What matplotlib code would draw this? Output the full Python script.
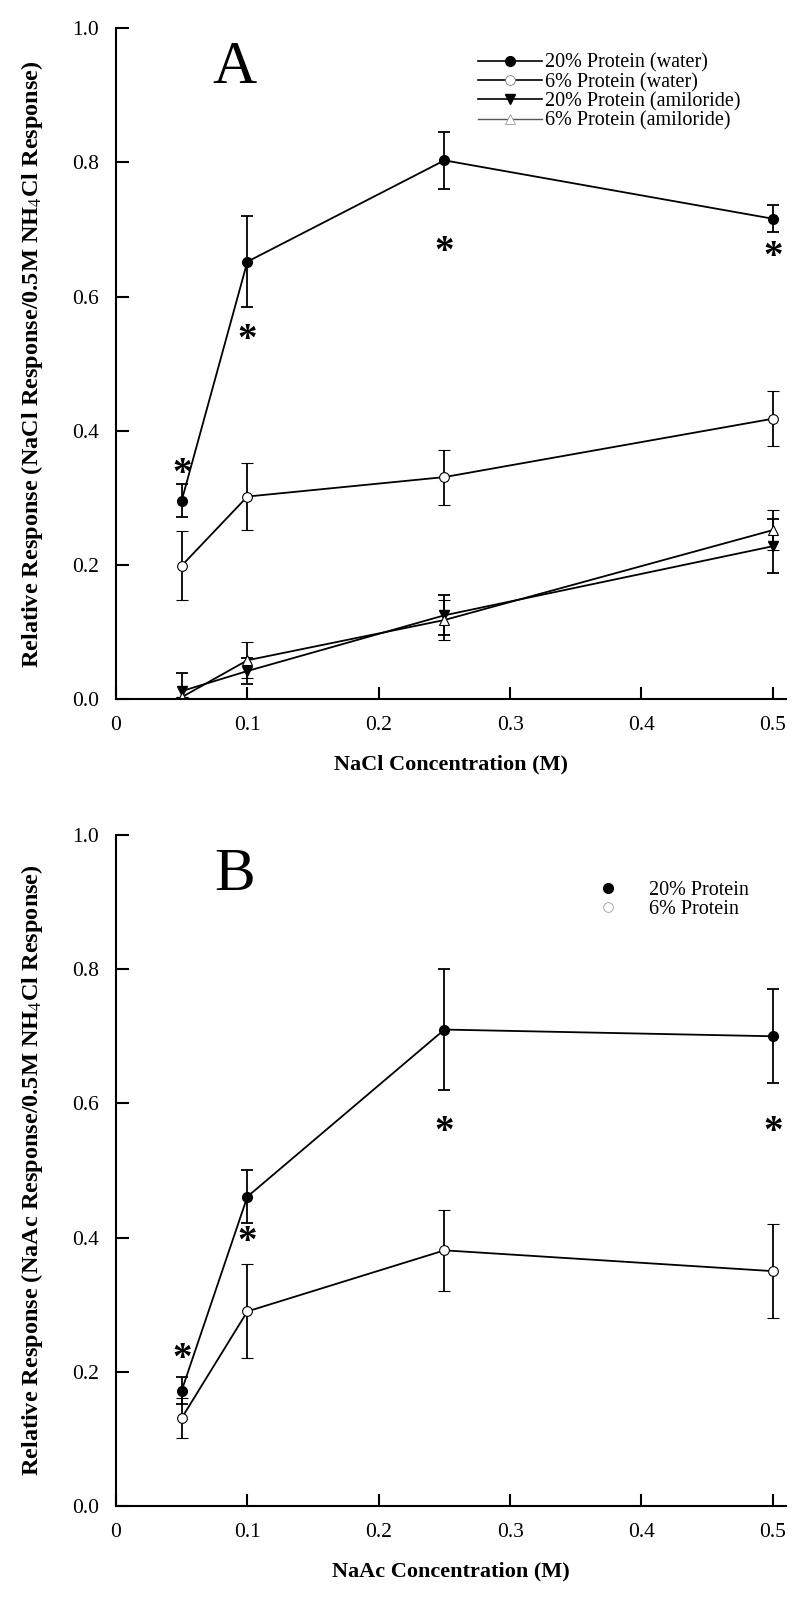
import matplotlib
matplotlib.use("Agg")
import matplotlib.pyplot as plt
from matplotlib.lines import Line2D

plt.rcParams['font.family'] = ['Liberation Serif', 'DejaVu Serif']
plt.rcParams['mathtext.fontset'] = 'stix'

conc = [0.05, 0.1, 0.25, 0.5]

# panel A - NaCl
a_p20_water = [0.296, 0.652, 0.803, 0.716]
a_p20_water_err = [0.025, 0.068, 0.043, 0.020]
a_p6_water = [0.199, 0.302, 0.331, 0.418]
a_p6_water_err = [0.051, 0.050, 0.041, 0.041]
a_p20_amil = [0.012, 0.042, 0.125, 0.228]
a_p20_amil_err = [0.027, 0.020, 0.030, 0.040]
a_p6_amil = [0.003, 0.058, 0.118, 0.252]
a_p6_amil_err = [0.0, 0.027, 0.030, 0.030]
a_star_y = [0.335, 0.535, 0.665, 0.658]

# panel B - NaAc
b_p20 = [0.172, 0.461, 0.710, 0.700]
b_p20_err = [0.020, 0.040, 0.090, 0.070]
b_p6 = [0.131, 0.290, 0.381, 0.350]
b_p6_err = [0.030, 0.070, 0.060, 0.070]
b_star_y = [0.218, 0.392, 0.557, 0.557]

xticks = [0, 0.1, 0.2, 0.3, 0.4, 0.5]
xticklabels = ['0', '0.1', '0.2', '0.3', '0.4', '0.5']
yticks = [0.0, 0.2, 0.4, 0.6, 0.8, 1.0]
yticklabels = ['0.0', '0.2', '0.4', '0.6', '0.8', '1.0']

fig = plt.figure(figsize=(8, 16), dpi=100)
ax1 = fig.add_axes([0.145, 0.563, 0.8375, 0.4194])
ax2 = fig.add_axes([0.145, 0.05875, 0.8375, 0.4194])

eb = dict(color='black', lw=1.3, capsize=4, elinewidth=1.3, capthick=1.3)


def style_axis(ax, xlabel, ylabel):
    ax.set_xlim(0, 0.51)
    ax.set_ylim(0, 1.0)
    ax.spines['top'].set_visible(False)
    ax.spines['right'].set_visible(False)
    ax.spines['left'].set_linewidth(1.5)
    ax.spines['bottom'].set_linewidth(1.5)
    ax.set_xticks(xticks)
    ax.set_xticklabels(xticklabels)
    ax.set_yticks(yticks)
    ax.set_yticklabels(yticklabels)
    ax.tick_params(direction='in', length=9, width=1.5, labelsize=15.5, pad=12)
    ax.set_xlabel(xlabel, fontsize=16, fontweight='bold', labelpad=14)
    ax.set_ylabel(ylabel, fontsize=17.5, fontweight='bold', labelpad=20)


# panel A
ax1.errorbar(conc, a_p20_water, yerr=a_p20_water_err, marker='o', ms=7,
             mfc='black', mec='black', **eb)
ax1.errorbar(conc, a_p6_water, yerr=a_p6_water_err, marker='o', ms=7,
             mfc='white', mec='black', mew=0.8, **eb)
ax1.errorbar(conc, a_p20_amil, yerr=a_p20_amil_err, marker='v', ms=7,
             mfc='black', mec='black', **eb)
ax1.errorbar(conc, a_p6_amil, yerr=a_p6_amil_err, marker='^', ms=7,
             mfc='white', mec='black', mew=0.8, **eb)
for x, y in zip(conc, a_star_y):
    ax1.text(x, y, '*', fontsize=28, ha='center', va='center', fontweight='bold')
ax1.text(0.09, 0.94, 'A', fontsize=44, ha='center', va='center')

labels_a = ['20% Protein (water)', '6% Protein (water)',
            '20% Protein (amiloride)', '6% Protein (amiloride)']
handles_a = [
    Line2D([], [], color='black', lw=1.2, marker='o', ms=7, mfc='black', mec='black'),
    Line2D([], [], color='black', lw=1.2, marker='o', ms=7, mfc='white', mec='#777777', mew=0.6),
    Line2D([], [], color='black', lw=1.2, marker='v', ms=7, mfc='black', mec='black'),
    Line2D([], [], color='#555555', lw=1.0, marker='^', ms=7, mfc='white', mec='#999999', mew=0.6),
]
ax1.legend(handles_a, labels_a, loc='upper left', bbox_to_anchor=(0.54, 0.962),
           frameon=False, fontsize=14.5, handlelength=3.2, handletextpad=0.15,
           labelspacing=0.0, borderpad=0, borderaxespad=0)
style_axis(ax1, 'NaCl Concentration (M)',
           'Relative Response (NaCl Response/0.5M NH$_4$Cl Response)')

# panel B
ax2.errorbar(conc, b_p20, yerr=b_p20_err, marker='o', ms=7,
             mfc='black', mec='black', **eb)
ax2.errorbar(conc, b_p6, yerr=b_p6_err, marker='o', ms=7,
             mfc='white', mec='black', mew=0.8, **eb)
for x, y in zip(conc, b_star_y):
    ax2.text(x, y, '*', fontsize=28, ha='center', va='center', fontweight='bold')
ax2.text(0.09, 0.94, 'B', fontsize=44, ha='center', va='center')

labels_b = ['20% Protein', '6% Protein']
handles_b = [
    Line2D([], [], ls='none', marker='o', ms=7, mfc='black', mec='black'),
    Line2D([], [], ls='none', marker='o', ms=7, mfc='white', mec='#999999', mew=0.6),
]
ax2.legend(handles_b, labels_b, loc='upper left', bbox_to_anchor=(0.72, 0.932),
           frameon=False, fontsize=14.5, handlelength=1.0, handletextpad=1.5,
           labelspacing=0.0, borderpad=0, borderaxespad=0)
style_axis(ax2, 'NaAc Concentration (M)',
           'Relative Response (NaAc Response/0.5M NH$_4$Cl Response)')

plt.savefig('out.png', dpi=100)
